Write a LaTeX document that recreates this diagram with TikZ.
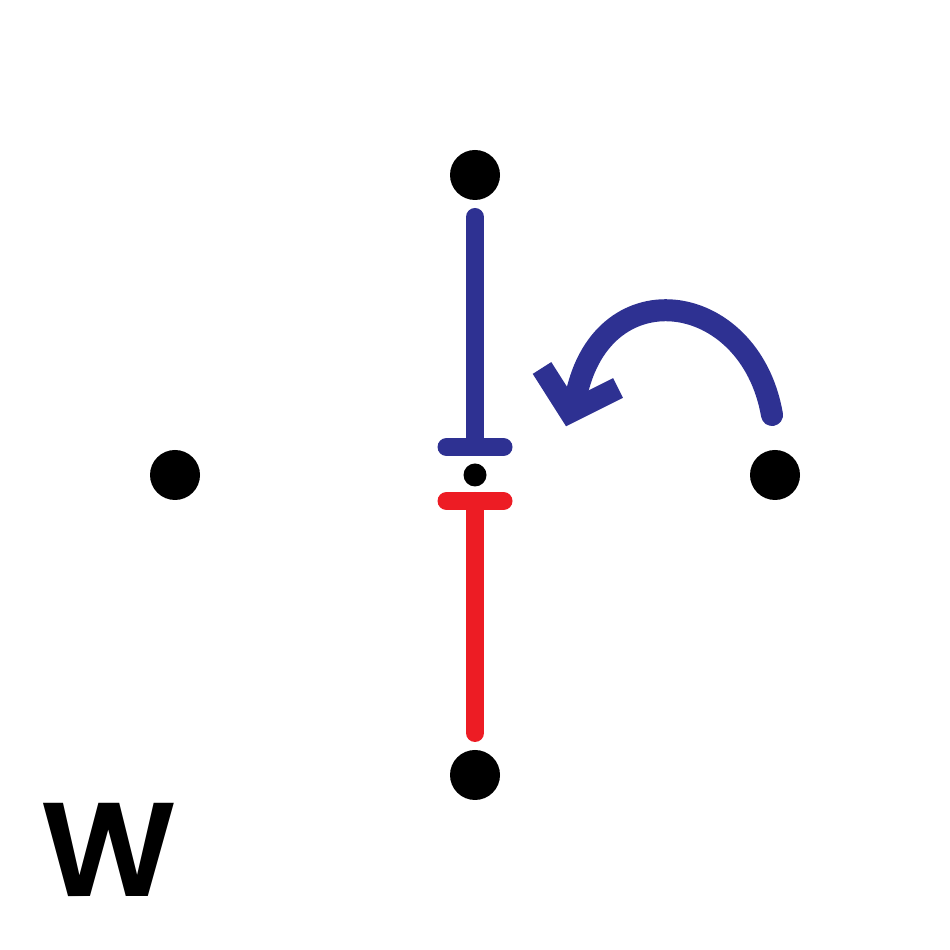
\documentclass[tikz,border=0pt]{standalone}
\usepackage{fontspec}
\usetikzlibrary{positioning,calc}
\newfontfamily\letterfont{Poppins}[BoldFont={* SemiBold}]
\definecolor{strandBlue}{HTML}{2E3192}
\definecolor{strandRed}{HTML}{ED1C24}
\tikzset{
    bigdot/.style={circle,fill=black,inner sep=0pt,minimum size=0.50cm},
    smalldot/.style={circle,fill=black,inner sep=0pt,minimum size=0.23cm},
    bluestroke/.style={draw=strandBlue,line width=0.18cm,line cap=round},
    redstroke/.style={draw=strandRed,line width=0.18cm,line cap=round},
    turnarrow/.style={draw=strandBlue,line width=0.22cm,line cap=round},
    turnhead/.style={draw=strandBlue,line width=0.22cm,line cap=butt,line join=miter},
    letter/.style={anchor=base,inner sep=0pt,font=\letterfont\bfseries\fontsize{38}{38}\selectfont}
}
\begin{document}
\begin{tikzpicture}[node distance=3cm and 3cm,on grid]
    \useasboundingbox (0,0) rectangle (9.5,9.5);
    \node[smalldot] (mid) at (4.75,4.75) {};
    \node[bigdot] (top) [above=of mid] {};
    \node[bigdot] (left) [left=of mid] {};
    \node[bigdot] (right) [right=of mid] {};
    \node[bigdot] (bottom) [below=of mid] {};
    % blue strand
    \coordinate (bluetop) at ($(top)+(0,-0.42)$);
    \coordinate (bluefoot) at ($(mid)+(0,0.28)$);
    \draw[bluestroke] (bluetop) -- (bluefoot);
    \draw[bluestroke] ($(bluefoot)+(-0.285,0)$) -- ($(bluefoot)+(0.285,0)$);
    % red strand
    \coordinate (redtop) at ($(mid)+(0,-0.26)$);
    \coordinate (redfoot) at ($(bottom)+(0,0.42)$);
    \draw[redstroke] (redtop) -- (redfoot);
    \draw[redstroke] ($(redtop)+(-0.285,0)$) -- ($(redtop)+(0.285,0)$);
    % turning arrow
    \coordinate (turnstart) at ($(right)+(-0.03,0.60)$);
    \coordinate (turntip) at (5.70,5.38);
    \draw[turnarrow] (turnstart) .. controls (7.50,6.62) and (5.98,6.82) .. (5.75,5.48);
    \draw[turnhead] (5.42,5.82) -- (turntip) -- (6.18,5.62);
    \node[letter] (wlabel) at (1.09,0.54) {W};
\end{tikzpicture}
\end{document}
